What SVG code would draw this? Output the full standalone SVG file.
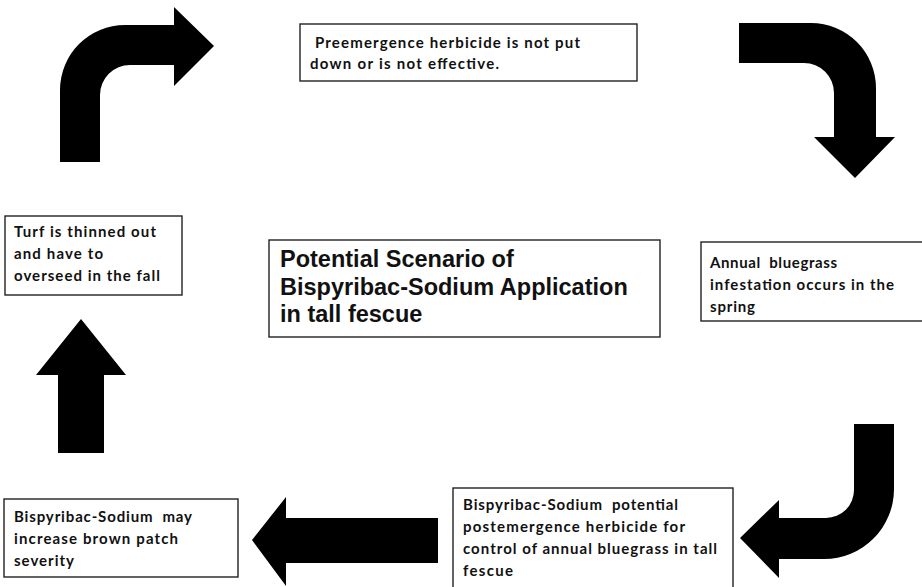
<svg xmlns="http://www.w3.org/2000/svg" width="922" height="587" viewBox="0 0 922 587">
<style>
.box{fill:#fff;stroke:#222;stroke-width:1.4}
.t{font-family:Lato,"Noto Sans",sans-serif;font-weight:bold;font-size:15px;fill:#111;white-space:pre}
.title{font-family:"Liberation Sans",Arial,sans-serif;font-weight:bold;font-size:23.5px;fill:#111}
.arrow{fill:#000}
</style>
<rect width="922" height="587" fill="#fff"/>
<g id="connectors">
<path class="arrow" d="M60 162 L60 90 A65 65 0 0 1 125 25 L174 25 L174 7 L214 46 L174 86 L174 65 L130 65 A30 30 0 0 0 100 95 L100 162 Z"/>
<path class="arrow" d="M739 23 L811 23 A65 65 0 0 1 876 88 L876 137 L895 137 L855 178 L814 137 L834 137 L834 93 A30 30 0 0 0 804 63 L739 63 Z"/>
<path class="arrow" d="M854 424 L894 424 L894 489 A70 70 0 0 1 824 559 L779 559 L779 578 L740 538 L779 500 L779 518 L826 518 A28 28 0 0 0 854 490 Z"/>
<path class="arrow" d="M438 518 L286 518 L286 497 L252 540 L286 586 L286 563 L438 563 Z"/>
<path class="arrow" d="M58 453 L58 375 L36 375 L81 319 L126 375 L104 375 L104 453 Z"/>
</g>
<g id="node-preemergence">
<rect class="box" x="300" y="24" width="337" height="57"/>
<text class="t" x="315" y="48" textLength="265">Preemergence herbicide is not put</text>
<text class="t" x="310" y="69" textLength="189">down or is not effective.</text>
</g>
<g id="node-annual">
<rect class="box" x="701" y="242" width="230" height="79"/>
<text class="t" x="710" y="268" textLength="127" xml:space="preserve">Annual  bluegrass</text>
<text class="t" x="710" y="290" textLength="184">infestation occurs in the</text>
<text class="t" x="710" y="312" textLength="45">spring</text>
</g>
<g id="node-title">
<rect class="box" x="269" y="240" width="391" height="97"/>
<text class="title" x="280" y="267">Potential Scenario of</text>
<text class="title" x="280" y="295">Bispyribac-Sodium Application</text>
<text class="title" x="280" y="322">in tall fescue</text>
</g>
<g id="node-turf">
<rect class="box" x="5" y="216" width="177" height="79"/>
<text class="t" x="14" y="237" textLength="142">Turf is thinned out</text>
<text class="t" x="14" y="259" textLength="89">and have to</text>
<text class="t" x="14" y="281" textLength="146">overseed in the fall</text>
</g>
<g id="node-brownpatch">
<rect class="box" x="4" y="499" width="234" height="78"/>
<text class="t" x="14" y="522" textLength="178" xml:space="preserve">Bispyribac-Sodium  may</text>
<text class="t" x="14" y="544" textLength="164">increase brown patch</text>
<text class="t" x="14" y="566" textLength="60">severity</text>
</g>
<g id="node-postemergence">
<rect class="box" x="453" y="488" width="280" height="110"/>
<text class="t" x="463" y="510" textLength="215" xml:space="preserve">Bispyribac-Sodium  potential</text>
<text class="t" x="463" y="532" textLength="222">postemergence herbicide for</text>
<text class="t" x="463" y="554" textLength="254">control of annual bluegrass in tall</text>
<text class="t" x="463" y="576" textLength="50">fescue</text>
</g>
</svg>
